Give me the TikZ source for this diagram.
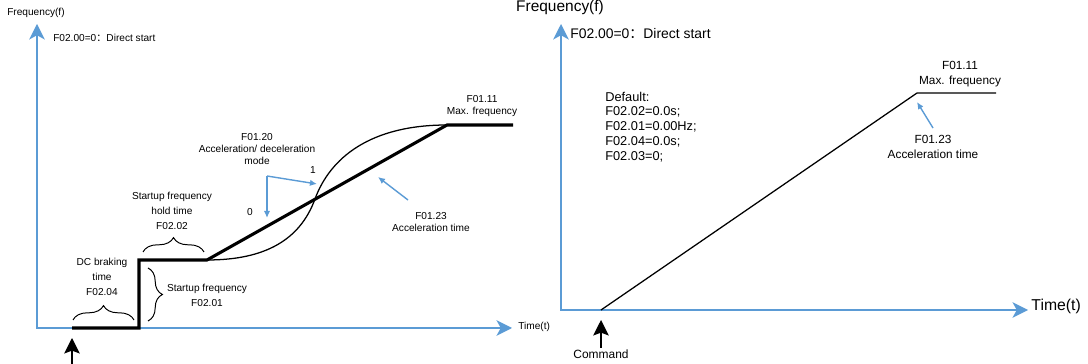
\documentclass[tikz,border=0pt]{standalone}
\usepackage{fontspec}
\setmainfont{Liberation Sans}
\newfontfamily\cjk{Noto Sans CJK SC}
\usepackage{xcolor}
\usepackage{tikz}
\usetikzlibrary{arrows.meta,decorations.pathreplacing,positioning,calc}
\definecolor{axblue}{RGB}{91,155,213}

\begin{document}
\begin{tikzpicture}[
    lbl/.style={font=\fontsize{7.2}{8.6}\selectfont, inner sep=0pt, align=center},
    lblw/.style={lbl, font=\fontsize{7.2}{10.8}\selectfont},
    rlbl/.style={font=\fontsize{8.4}{10.4}\selectfont, inner sep=0pt, align=center},
    axis/.style={axblue, line width=1.3pt, -{Stealth[length=11pt, width=11pt, inset=3pt]}},
    ramp/.style={line width=2.2pt, line join=miter},
    thinline/.style={line width=0.9pt},
    pointer/.style={axblue, line width=1pt, -{Latex[length=5pt, width=4.5pt]}},
    cmd/.style={line width=1.1pt, -{Stealth[length=11pt, width=11pt, inset=2pt]}},
    brc/.style={decorate, decoration={brace, amplitude=0.36cm}, line width=0.7pt}
]
\useasboundingbox (0,0) rectangle (27.2,9.1);
% ----- left chart: axes -----
\coordinate (o1)  at (0.925,0.9);
\coordinate (yt1) at (0.925,8.5);
\coordinate (xt1) at (12.8,0.9);
\draw[axis] ([yshift=-0.6pt]o1) -- (yt1);
\draw[axis] ([xshift=-0.6pt]o1) -- (xt1);
\node[lbl] (freq1) at (0.9,8.775) {Frequency(f)};
\node[lbl, anchor=west] (start1) at (1.325,8.15) {F02.00=0{\cjk ：}Direct start};
\node[lbl, anchor=west] (time1) at (12.95,0.92) {Time(t)};
% ----- left chart: curves -----
\coordinate (l0) at (1.8,0.9);
\coordinate (l1) at (3.475,0.9);
\coordinate (l2) at (3.475,2.6);
\coordinate (l3) at (5.175,2.6);
\coordinate (l4) at (11.175,5.975);
\coordinate (l5) at (12.825,5.975);
\coordinate (sm) at (7.875,4.125);
\draw[thinline] (l3) .. controls (6.625,2.6) and (7.5,3.1) .. (sm)
                     .. controls (8.25,5.15) and (9.25,5.975) .. (l4);
\draw[ramp] (l0) -- (l1) -- (l2) -- (l3) -- (l4) -- (l5);
% ----- left chart: labels -----
\node[lbl] (maxf1) at (12.05,6.45) {F01.11\\Max. frequency};
\node[lbl] (mode1) at (6.425,5.375) {F01.20\\Acceleration/ deceleration\\mode};
\coordinate (bend) at (6.675,4.7);
\coordinate (bendd) at (6.675,3.65);
\coordinate (bendr) at (7.925,4.5);
\draw[pointer] (bend) -- (bendd);
\draw[pointer] (bend) -- (bendr);
\node[lbl] (one1) at (7.825,4.85) {1};
\node[lbl] (zero1) at (6.25,3.8) {0};
\node[lbl] (acc1) at (10.775,3.55) {F01.23\\Acceleration time};
\coordinate (a1s) at (10.2,4.1);
\coordinate (a1e) at (9.45,4.675);
\draw[pointer] (a1s) -- (a1e);
\node[lblw] (hold1) at (4.3,3.825) {Startup frequency\\hold time\\F02.02};
\draw[brc] (3.575,2.8) -- (5.1,2.8);
\node[lblw] (dcb1) at (2.55,2.175) {DC braking\\time\\F02.04};
\draw[brc] (1.825,1.1) -- (3.35,1.1);
\draw[brc] (3.7,2.4) -- (3.7,1.075);
\node[lblw] (sfreq1) at (5.175,1.7125) {Startup frequency\\F02.01};
\coordinate (c1s) at (1.8,0);
\coordinate (c1e) at (1.8,0.65);
\draw[cmd] (c1s) -- (c1e);
% ----- right chart: axes -----
\coordinate (o2)  at (14.025,1.35);
\coordinate (yt2) at (14.025,8.5);
\coordinate (xt2) at (25.7,1.35);
\draw[axis] ([yshift=-0.6pt]o2) -- (yt2);
\draw[axis] ([xshift=-0.6pt]o2) -- (xt2);
\node[font=\fontsize{11}{13}\selectfont, inner sep=0pt] (freq2) at (14.0,8.9) {Frequency(f)};
\node[font=\fontsize{9.9}{12}\selectfont, inner sep=0pt, anchor=west] (start2) at (14.25,8.25) {F02.00=0{\cjk ：}Direct start};
\node[font=\fontsize{11.2}{13}\selectfont, inner sep=0pt, anchor=west] (time2) at (25.78,1.45) {Time(t)};
\node[font=\fontsize{9.1}{10.6}\selectfont, inner sep=0pt, anchor=west, align=left] (dflt2) at (15.125,5.925)
    {Default:\\F02.02=0.0s;\\F02.01=0.00Hz;\\F02.04=0.0s;\\F02.03=0;};
% ----- right chart: ramp -----
\coordinate (r0) at (15.025,1.35);
\coordinate (r1) at (22.925,6.775);
\coordinate (r2) at (24.9,6.775);
\draw[thinline] (r0) -- (r1) -- (r2);
\node[rlbl] (maxf2) at (24.0,7.25) {F01.11\\Max. frequency};
\node[rlbl] (acc2) at (23.325,5.425) {F01.23\\Acceleration time};
\coordinate (a2s) at (23.325,5.9);
\coordinate (a2e) at (22.925,6.55);
\draw[pointer] (a2s) -- (a2e);
\coordinate (c2s) at (15.025,0.4);
\coordinate (c2e) at (15.025,1.1);
\draw[cmd] (c2s) -- (c2e);
\node[font=\fontsize{8.5}{10}\selectfont, inner sep=0pt] (cmd2) at (15.025,0.25) {Command};
\end{tikzpicture}
\end{document}
